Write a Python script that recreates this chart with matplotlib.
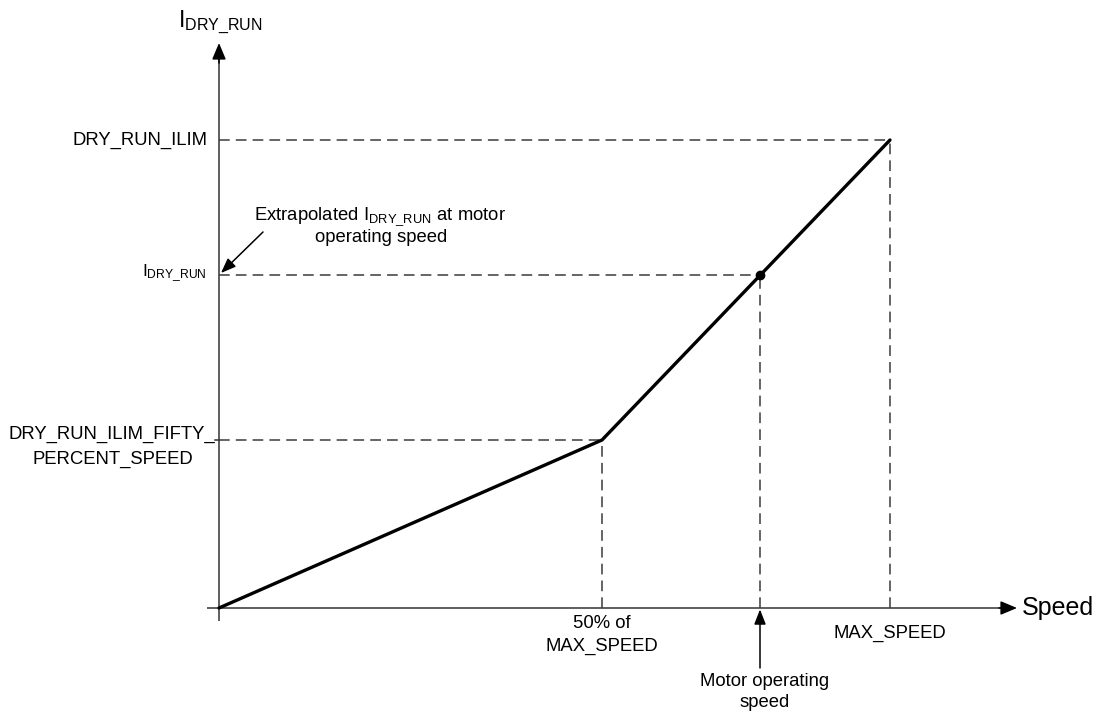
import matplotlib.pyplot as plt
import matplotlib as mpl

mpl.rcParams['font.family'] = ['Liberation Sans', 'DejaVu Sans']

# origin of the diagram sits at pixel (219, 608); values are offsets from it
speed_pts = [0, 383, 541, 671]      # 0, 50% of MAX_SPEED, motor speed, MAX_SPEED
current_pts = [0, 168, 333, 468]    # 0, FIFTY_PERCENT ILIM, I_DRY_RUN, ILIM
x_labels = ['50% of\nMAX_SPEED', 'Motor operating\nspeed', 'MAX_SPEED']

W, H = 1099, 712
OX, OY = 219, 608

fig = plt.figure(figsize=(W / 100, H / 100), dpi=100)
ax = fig.add_axes([0, 0, 1, 1])
ax.set_xlim(-OX, W - OX)
ax.set_ylim(-(H - OY), OY)
ax.axis('off')

axis_col = '#333333'
dash_col = '#3a3a3a'

# axes with arrow heads
ax.plot([-12, 785], [0, 0], color=axis_col, lw=1.1, solid_capstyle='butt')
ax.plot([0, 0], [-13, 552], color=axis_col, lw=1.1, solid_capstyle='butt')
ax.annotate('', xy=(798, 0), xytext=(780, 0),
            arrowprops=dict(arrowstyle='-|>,head_length=1.0,head_width=0.42',
                            color='black', lw=1.1, shrinkA=0, shrinkB=0))
ax.annotate('', xy=(0, 565), xytext=(0, 545),
            arrowprops=dict(arrowstyle='-|>,head_length=1.0,head_width=0.42',
                            color='black', lw=1.1, shrinkA=0, shrinkB=0))

# dashed guide lines
for sx, cy in [(speed_pts[1], current_pts[1]), (speed_pts[2], current_pts[2]),
               (speed_pts[3], current_pts[3])]:
    ax.plot([0, sx], [cy, cy], ls=(0, (7, 4)), color=dash_col, lw=1.1)
    ax.plot([sx, sx], [0, cy], ls=(0, (7, 4)), color=dash_col, lw=1.1)
ax.plot([-4, 0], [current_pts[1], current_pts[1]], color=axis_col, lw=1.1)

# dry run current curve
ax.plot(speed_pts[:2] + [speed_pts[3]], current_pts[:2] + [current_pts[3]],
        color='black', lw=2.4, solid_capstyle='round', solid_joinstyle='miter')
ax.plot(speed_pts[2], current_pts[2], 'o', color='black', ms=6)

fs = 13.3
# y labels
ax.text(-12, current_pts[3], 'DRY_RUN_ILIM', ha='right', va='center', fontsize=fs)
ax.text(-12, current_pts[2] + 2, r'$\mathregular{I_{DRY\_RUN}}$', ha='right',
        va='center', fontsize=12.5)
ax.text(-107, current_pts[1] + 1, 'DRY_RUN_ILIM_FIFTY_', ha='center',
        va='baseline', fontsize=fs)
ax.text(-106, current_pts[1] - 24, 'PERCENT_SPEED', ha='center',
        va='baseline', fontsize=fs)

# x labels
ax.text(speed_pts[1], -27, x_labels[0], ha='center', va='center',
        fontsize=fs, linespacing=1.45)
ax.text(speed_pts[2] + 5, -84, x_labels[1], ha='center', va='center',
        fontsize=fs, linespacing=1.25)
ax.text(speed_pts[3], -25, x_labels[2], ha='center', va='center', fontsize=fs)
ax.annotate('', xy=(speed_pts[2], 0), xytext=(speed_pts[2], -60),
            arrowprops=dict(arrowstyle='-|>,head_length=0.9,head_width=0.35',
                            color='black', lw=1.1, shrinkA=0, shrinkB=1))

# axis titles
ax.text(803, 0, 'Speed', ha='left', va='center', fontsize=18)
ax.text(-41, 586, r'$\mathregular{I_{DRY\_RUN}}$', ha='left', va='center',
        fontsize=16.5)

# annotation
ax.text(161, 391, r'Extrapolated $\mathregular{I_{DRY\_RUN}}$ at motor',
        ha='center', va='center', fontsize=fs)
ax.text(162, 371, 'operating speed', ha='center', va='center', fontsize=fs)
ax.annotate('', xy=(2, current_pts[2] + 2), xytext=(44, 376),
            arrowprops=dict(arrowstyle='-|>,head_length=0.9,head_width=0.35',
                            color='black', lw=1.1, shrinkA=0, shrinkB=0))

fig.savefig('out.png', dpi=100)
